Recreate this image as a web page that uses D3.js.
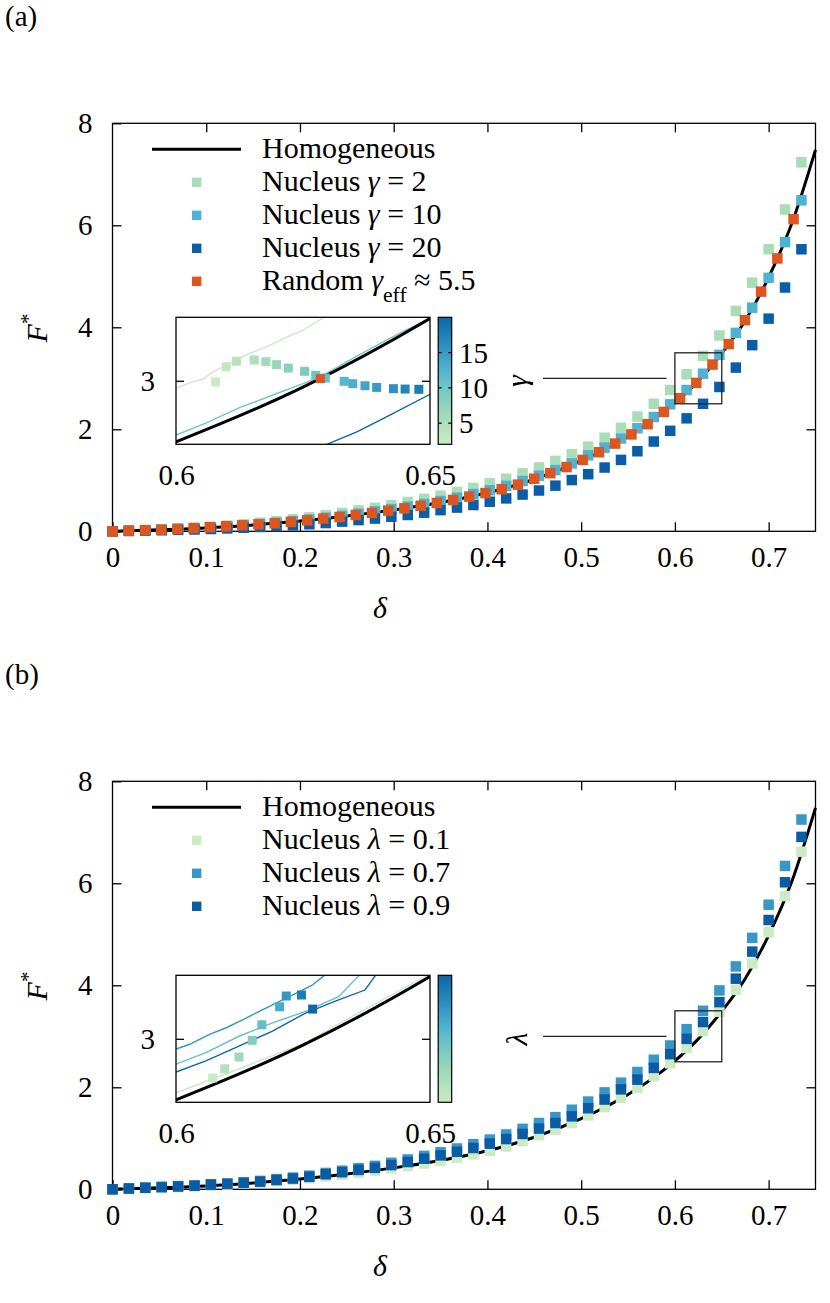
<!DOCTYPE html>
<html>
<head>
<meta charset="utf-8">
<script src="https://cdn.jsdelivr.net/npm/d3@7"></script>
<style>
  body { margin: 0; background: #fff; }
  svg text { font-family: "Liberation Serif", "DejaVu Serif", serif; fill: #000; }
</style>
</head>
<body>
<div class="chart"></div>
<script>
// ---- values ----
var deltaNucleus = [0, 0.0175, 0.035, 0.0525, 0.07, 0.0875, 0.105, 0.1225, 0.14, 0.1575, 0.175, 0.1925, 0.21, 0.2275, 0.245,
  0.2625, 0.28, 0.2975, 0.315, 0.3325, 0.35, 0.3675, 0.385, 0.4025, 0.42, 0.4375, 0.455, 0.4725, 0.49, 0.5075, 0.525,
  0.5425, 0.56, 0.5775, 0.595, 0.6125, 0.63, 0.6475, 0.665, 0.6825, 0.7, 0.7175, 0.735];
var deltaRandom = [0, 0.0173, 0.0346, 0.0519, 0.0692, 0.0865, 0.1038, 0.1211, 0.1384, 0.1557, 0.173, 0.1903, 0.2076, 0.2249,
  0.2422, 0.2595, 0.2768, 0.2941, 0.3114, 0.3287, 0.346, 0.3633, 0.3806, 0.3979, 0.4152, 0.4325, 0.4498, 0.4671, 0.4844,
  0.5017, 0.519, 0.5363, 0.5536, 0.5709, 0.5882, 0.6055, 0.6228, 0.6401, 0.6574, 0.6747, 0.692, 0.7093, 0.7266];

var homDelta = [0, 0.05, 0.1, 0.15, 0.2, 0.25, 0.3, 0.35, 0.4, 0.45, 0.5, 0.55, 0.575, 0.6, 0.625, 0.65, 0.675, 0.7, 0.725, 0.75];
var homF = [0, 0.03, 0.067, 0.125, 0.2, 0.3, 0.42, 0.565, 0.755, 1.02, 1.385, 1.86, 2.16, 2.52, 2.95, 3.49, 4.13, 4.98, 6.05, 7.48];

// panel (a)
var fGamma2 = [0, 0.013, 0.025, 0.04, 0.055, 0.072, 0.09, 0.113, 0.14, 0.167, 0.197, 0.235, 0.272, 0.315, 0.36,
  0.41, 0.46, 0.515, 0.575, 0.635, 0.7, 0.77, 0.85, 0.94, 1.03, 1.135, 1.25, 1.38,
  1.51, 1.66, 1.835, 2.03, 2.25, 2.5, 2.77, 3.08, 3.44, 3.84, 4.32, 4.875, 5.53, 6.31, 7.235];
var fGamma10 = [0, 0.01, 0.022, 0.034, 0.047, 0.06, 0.076, 0.096, 0.118, 0.142, 0.168, 0.198, 0.23, 0.266, 0.303,
  0.345, 0.39, 0.435, 0.485, 0.535, 0.595, 0.66, 0.73, 0.805, 0.89, 0.985,
  1.09, 1.2, 1.33, 1.49, 1.64, 1.82, 2.02, 2.24, 2.49, 2.77, 3.09, 3.46, 3.89, 4.385, 4.97, 5.67, 6.49];
var fGamma20 = [0, 0.006, 0.012, 0.02, 0.028, 0.036, 0.045, 0.056, 0.07, 0.085, 0.1, 0.118, 0.138, 0.162, 0.19,
  0.22, 0.25, 0.285, 0.32, 0.365, 0.415, 0.465, 0.515, 0.58, 0.645, 0.72, 0.8, 0.895, 1.005, 1.12,
  1.25, 1.4, 1.57, 1.76, 1.97, 2.215, 2.5, 2.83, 3.21, 3.65, 4.17, 4.78, 5.53];
var fRandom = [0, 0.012, 0.02, 0.03, 0.045, 0.062, 0.08, 0.098, 0.118, 0.137, 0.157, 0.185, 0.215, 0.25, 0.28,
  0.32, 0.36, 0.405, 0.45, 0.5, 0.555, 0.615, 0.68, 0.75, 0.825, 0.915, 1.03, 1.14,
  1.26, 1.4, 1.55, 1.72, 1.9, 2.1, 2.34, 2.61, 2.91, 3.27, 3.67, 4.14, 4.7, 5.35, 6.12];

// panel (b)
var fLambda01 = [0, 0.01, 0.02, 0.031, 0.044, 0.057, 0.071, 0.09, 0.11, 0.132, 0.157, 0.186, 0.215, 0.25, 0.285,
  0.325, 0.365, 0.41, 0.455, 0.505, 0.56, 0.62, 0.685, 0.755, 0.84, 0.945,
  1.06, 1.17, 1.3, 1.45, 1.61, 1.79, 1.99, 2.22, 2.47, 2.77, 3.1, 3.48, 3.91, 4.43, 5.04, 5.75, 6.62];
var fLambda07 = [0, 0.017, 0.033, 0.047, 0.062, 0.077, 0.098, 0.115, 0.137, 0.165, 0.2, 0.23, 0.268, 0.32, 0.365,
  0.415, 0.46, 0.52, 0.585, 0.655, 0.725, 0.8, 0.885, 0.975, 1.075, 1.185, 1.3,
  1.415, 1.56, 1.72, 1.9, 2.09, 2.3, 2.54, 2.82, 3.14, 3.5, 3.9, 4.37, 4.93, 5.58, 6.34, 7.25];
var fLambda09 = [0, 0.015, 0.03, 0.043, 0.056, 0.07, 0.09, 0.105, 0.125, 0.15, 0.182, 0.21, 0.245, 0.295, 0.335,
  0.38, 0.42, 0.475, 0.535, 0.6, 0.665, 0.735, 0.81, 0.895, 0.985, 1.085, 1.19, 1.3,
  1.43, 1.59, 1.76, 1.96, 2.15, 2.38, 2.65, 2.95, 3.28, 3.67, 4.13, 4.66, 5.28, 6.02, 6.91];

// inset (a): squares coloured by gamma, lines for gamma = 2, 10, 20
var insetADelta = [0.6078, 0.6099, 0.6119, 0.6154, 0.6177, 0.6198, 0.6221, 0.6253, 0.6275, 0.6294, 0.6331, 0.6348,
  0.6372, 0.6395, 0.6428, 0.6451, 0.6478];
var insetAF = [2.991, 3.11, 3.154, 3.164, 3.15, 3.127, 3.1, 3.075, 3.043, 3.022, 2.996, 2.977, 2.961, 2.948, 2.938, 2.935, 2.933];
var insetAGamma = [2, 3, 4, 5, 6, 7, 8, 9, 10, 11, 12, 13, 14, 15, 16, 17, 18];
var insetARandomDelta = [0.6284];
var insetARandomF = [3.017];
var lineG2Delta = [0.6, 0.6028, 0.6054, 0.607, 0.6093, 0.612, 0.6146, 0.6179, 0.6218, 0.6251, 0.6288, 0.6298];
var lineG2F = [2.941, 2.986, 3.014, 3.064, 3.112, 3.169, 3.217, 3.269, 3.343, 3.4, 3.492, 3.52];
var lineG10Delta = [0.6, 0.6061, 0.6126, 0.6192, 0.6258, 0.6297, 0.635, 0.6416, 0.65];
var lineG10F = [2.573, 2.67, 2.79, 2.89, 2.99, 3.06, 3.18, 3.325, 3.495];
var lineG20Delta = [0.6285, 0.6297, 0.6357, 0.6422, 0.65];
var lineG20F = [2.475, 2.5, 2.6, 2.731, 2.894];

// inset (b): squares coloured by lambda, lines for lambda = 0.1, 0.5, 0.7, 0.9
var insetBDelta = [0.6072, 0.6096, 0.6124, 0.615, 0.6169, 0.6204, 0.6217, 0.6247, 0.6269];
var insetBF = [2.691, 2.764, 2.857, 2.988, 3.11, 3.252, 3.337, 3.345, 3.234];
var insetBLambda = [0.1, 0.2, 0.3, 0.4, 0.5, 0.6, 0.7, 0.8, 0.9];
var lineL01Delta = [0.6, 0.6125, 0.6255, 0.6353, 0.649, 0.6505];
var lineL01F = [2.575, 2.764, 2.97, 3.19, 3.487, 3.51];
var lineL05Delta = [0.6, 0.606, 0.6125, 0.619, 0.6255, 0.632, 0.6359, 0.6368];
var lineL05F = [2.8, 2.893, 3.022, 3.125, 3.216, 3.332, 3.492, 3.52];
var lineL07Delta = [0.6, 0.6027, 0.6066, 0.6099, 0.6132, 0.6164, 0.6203, 0.6236, 0.6268, 0.6291, 0.6305];
var lineL07F = [2.919, 2.957, 3.035, 3.087, 3.151, 3.216, 3.293, 3.358, 3.422, 3.495, 3.53];
var lineL09Delta = [0.6, 0.606, 0.6125, 0.619, 0.6255, 0.632, 0.6372, 0.6392, 0.64];
var lineL09F = [2.738, 2.828, 2.944, 3.061, 3.203, 3.306, 3.384, 3.495, 3.52];

// ticks and labels
var xTicks = [0, 0.1, 0.2, 0.3, 0.4, 0.5, 0.6, 0.7];
var yTicks = [0, 2, 4, 6, 8];
var insetXTicks = [0.6, 0.65];
var insetYTicks = [3];
var gammaTicks = [5, 10, 15];
var legendA = ["Homogeneous", "Nucleus γ = 2", "Nucleus γ = 10", "Nucleus γ = 20", "Random γ_{eff} ≈ 5.5"];
var legendB = ["Homogeneous", "Nucleus λ = 0.1", "Nucleus λ = 0.7", "Nucleus λ = 0.9"];

// ---- set up ----
var svgWidth = 830, svgHeight = 1303;
var svg = d3.select(".chart").append("svg")
  .attr("width", svgWidth).attr("height", svgHeight);
var defs = svg.append("defs");

var frame = {left: 112.5, right: 815.5, top: 123.3, bottom: 531.3};
var inset = {left: 176, right: 430, top: 317.3, bottom: 444.3};
var cbar = {left: 438.2, right: 451.7};
var tickFont = 29;

// gnuplot-like GnBu colorbar
var cmap = t => d3.interpolateGnBu(0.25 + 0.63 * t);
var fmt = d => String(+d.toFixed(2));

// text with italic greek letters and _{sub}
function mathText(sel, str) {
  str.split(/(_\{[^}]*\}|[γλδ])/).filter(s => s.length).forEach(function(s) {
    if (s.startsWith("_{")) {
      sel.append("tspan").attr("baseline-shift", "sub").attr("font-size", "0.72em").text(s.slice(2, -1));
    } else if (/[γλδ]/.test(s)) {
      sel.append("tspan").attr("font-style", "italic").text(s);
    } else {
      sel.append("tspan").text(s);
    }
  });
}

function styleAxis(g) {
  g.attr("font-size", tickFont).attr("font-family", "Liberation Serif, serif");
  g.select(".domain").remove();
  g.selectAll("line").attr("stroke-width", 1.3);
}

function drawPanel(p) {
  var oy = p.offset;
  var g = svg.append("g");

  var x = d3.scaleLinear().domain([0, 0.75]).range([frame.left, frame.right]);
  var y = d3.scaleLinear().domain([0, 8]).range([frame.bottom + oy, frame.top + oy]);

  // axes, ticks mirrored and pointing inward
  g.append("g").attr("transform", `translate(0,${y(0)})`)
    .call(d3.axisBottom(x).tickValues(xTicks).tickSize(-9).tickSizeOuter(0).tickPadding(15).tickFormat(fmt))
    .call(styleAxis);
  g.append("g").attr("transform", `translate(0,${y(8)})`)
    .call(d3.axisTop(x).tickValues(xTicks.slice(1)).tickSize(-9).tickSizeOuter(0).tickFormat(""))
    .call(styleAxis);
  g.append("g").attr("transform", `translate(${x(0)},0)`)
    .call(d3.axisLeft(y).tickValues(yTicks).tickSize(-9).tickSizeOuter(0).tickPadding(20).tickFormat(fmt))
    .call(styleAxis);
  g.append("g").attr("transform", `translate(${x(0.75)},0)`)
    .call(d3.axisRight(y).tickValues(yTicks.slice(1, -1)).tickSize(-9).tickSizeOuter(0).tickFormat(""))
    .call(styleAxis);

  g.append("rect")
    .attr("x", x(0)).attr("y", y(8))
    .attr("width", x(0.75) - x(0)).attr("height", y(0) - y(8))
    .attr("fill", "none").attr("stroke", "#000").attr("stroke-width", 1.3);

  // homogeneous curve
  var line = d3.line().x(d => x(d[0])).y(d => y(d[1])).curve(d3.curveMonotoneX);
  g.append("path").datum(d3.zip(homDelta, homF))
    .attr("d", line).attr("fill", "none").attr("stroke", "#000").attr("stroke-width", 3);

  // square markers
  var size = 10.5;
  p.series.forEach(function(s) {
    g.append("g").selectAll("rect").data(d3.zip(s.delta, s.f)).join("rect")
      .attr("x", d => x(d[0]) - size / 2)
      .attr("y", d => y(d[1]) - size / 2)
      .attr("width", size).attr("height", size)
      .attr("fill", s.color);
  });

  // zoom box and connector
  g.append("rect")
    .attr("x", x(0.6)).attr("y", y(3.5))
    .attr("width", x(0.65) - x(0.6)).attr("height", y(2.5) - y(3.5))
    .attr("fill", "none").attr("stroke", "#222").attr("stroke-width", 1.3);
  g.append("line")
    .attr("x1", 543).attr("x2", x(0.591))
    .attr("y1", y(3)).attr("y2", y(3))
    .attr("stroke", "#222").attr("stroke-width", 1.3);

  // legend
  var lg = g.append("g");
  p.legend.forEach(function(txt, i) {
    var ry = 149.3 + oy + i * 33;
    if (i === 0) {
      lg.append("line").attr("x1", 152).attr("x2", 241).attr("y1", ry).attr("y2", ry)
        .attr("stroke", "#000").attr("stroke-width", 3);
    } else {
      lg.append("rect").attr("x", 196.7 - 4.7).attr("y", ry - 4.7)
        .attr("width", 9.4).attr("height", 9.4).attr("fill", p.series[i - 1].color);
    }
    lg.append("text").attr("x", 262).attr("y", ry + 8.5).attr("font-size", 30).call(mathText, txt);
  });

  // axis titles
  g.append("text").attr("x", 380).attr("y", 618 + oy).attr("text-anchor", "middle")
    .attr("font-size", 30).attr("font-style", "italic").text("δ");
  var fl = g.append("text").attr("transform", `translate(47,${328 + oy}) rotate(-90)`)
    .attr("text-anchor", "middle").attr("font-size", 30);
  fl.append("tspan").attr("font-style", "italic").text("F");
  fl.append("tspan").attr("baseline-shift", "super").attr("font-size", "0.7em").text("*");

  g.append("text").attr("x", 5).attr("y", 26 + oy).attr("font-size", tickFont).text(p.tag);

  // ---- inset ----
  var ix = d3.scaleLinear().domain([0.6, 0.65]).range([inset.left, inset.right]);
  var iy = d3.scaleLinear().domain([2.5, 3.5]).range([inset.bottom + oy, inset.top + oy]);
  var cscale = d3.scaleLinear().domain(p.cDomain).range([0, 1]);
  var ig = g.append("g");
  ig.append("rect").attr("x", inset.left).attr("y", inset.top + oy)
    .attr("width", inset.right - inset.left).attr("height", inset.bottom - inset.top).attr("fill", "#fff");

  defs.append("clipPath").attr("id", "clip" + p.id).append("rect")
    .attr("x", inset.left).attr("y", inset.top + oy)
    .attr("width", inset.right - inset.left).attr("height", inset.bottom - inset.top);
  var clipped = ig.append("g").attr("clip-path", `url(#clip${p.id})`);

  var iline = d3.line().x(d => ix(d[0])).y(d => iy(d[1]));
  var ilineSmooth = d3.line().x(d => ix(d[0])).y(d => iy(d[1])).curve(d3.curveMonotoneX);
  p.insetLines.forEach(function(l) {
    clipped.append("path").datum(d3.zip(l.delta, l.f)).attr("d", iline)
      .attr("fill", "none").attr("stroke", cmap(cscale(l.c))).attr("stroke-width", 1.4);
  });
  clipped.append("path").datum(d3.zip(homDelta, homF)).attr("d", ilineSmooth)
    .attr("fill", "none").attr("stroke", "#000").attr("stroke-width", 3);

  var isz = 9;
  clipped.append("g").selectAll("rect").data(d3.zip(p.insetDelta, p.insetF, p.insetC)).join("rect")
    .attr("x", d => ix(d[0]) - isz / 2).attr("y", d => iy(d[1]) - isz / 2)
    .attr("width", isz).attr("height", isz)
    .attr("fill", d => cmap(cscale(d[2])));
  if (p.insetExtra) {
    clipped.append("g").selectAll("rect").data(d3.zip(p.insetExtra.delta, p.insetExtra.f)).join("rect")
      .attr("x", d => ix(d[0]) - isz / 2).attr("y", d => iy(d[1]) - isz / 2)
      .attr("width", isz).attr("height", isz).attr("fill", p.insetExtra.color);
  }

  ig.append("g").attr("transform", `translate(${inset.left},0)`)
    .call(d3.axisLeft(iy).tickValues(insetYTicks).tickSize(-8).tickSizeOuter(0).tickPadding(21).tickFormat(fmt))
    .call(styleAxis);
  ig.append("g").attr("transform", `translate(${inset.right},0)`)
    .call(d3.axisRight(iy).tickValues(insetYTicks).tickSize(-8).tickSizeOuter(0).tickFormat(""))
    .call(styleAxis);
  ig.append("g").attr("transform", `translate(0,${inset.bottom + oy})`)
    .call(d3.axisBottom(ix).tickValues(insetXTicks).tickSize(0).tickSizeOuter(0).tickPadding(20).tickFormat(fmt))
    .call(styleAxis);
  ig.append("rect").attr("x", inset.left).attr("y", inset.top + oy)
    .attr("width", inset.right - inset.left).attr("height", inset.bottom - inset.top)
    .attr("fill", "none").attr("stroke", "#000").attr("stroke-width", 1.3);

  // colorbar
  var grad = defs.append("linearGradient").attr("id", "grad" + p.id)
    .attr("x1", 0).attr("y1", 1).attr("x2", 0).attr("y2", 0);
  d3.range(0, 1.0001, 0.1).forEach(function(t) {
    grad.append("stop").attr("offset", t).attr("stop-color", cmap(t));
  });
  var cy = d3.scaleLinear().domain(p.cDomain).range([inset.bottom + oy, inset.top + oy]);
  ig.append("rect").attr("x", cbar.left).attr("y", inset.top + oy)
    .attr("width", cbar.right - cbar.left).attr("height", inset.bottom - inset.top)
    .attr("fill", `url(#grad${p.id})`).attr("stroke", "#000").attr("stroke-width", 1.2);
  p.cTicks.forEach(function(v) {
    ig.append("line").attr("x1", cbar.left).attr("x2", cbar.left + 3.5).attr("y1", cy(v)).attr("y2", cy(v))
      .attr("stroke", "#000").attr("stroke-width", 1.2);
    ig.append("line").attr("x1", cbar.right - 3.5).attr("x2", cbar.right).attr("y1", cy(v)).attr("y2", cy(v))
      .attr("stroke", "#000").attr("stroke-width", 1.2);
    ig.append("text").attr("x", 459).attr("y", cy(v)).attr("dy", "0.35em")
      .attr("font-size", tickFont).text(v);
  });
  ig.append("text").attr("transform", `translate(${p.cLabelX},${381 + oy}) rotate(-90)`)
    .attr("text-anchor", "middle").attr("font-size", 30).attr("font-style", "italic").text(p.cLabel);
}

drawPanel({
  id: "A", offset: 0, tag: "(a)", legend: legendA,
  series: [
    {delta: deltaNucleus, f: fGamma2, color: "#a8ddb5"},
    {delta: deltaNucleus, f: fGamma10, color: "#4eb3d3"},
    {delta: deltaNucleus, f: fGamma20, color: "#0a5ea8"},
    {delta: deltaRandom, f: fRandom, color: "#dd5620"}
  ],
  cDomain: [2, 20], cTicks: gammaTicks, cLabel: "γ", cLabelX: 527,
  insetDelta: insetADelta, insetF: insetAF, insetC: insetAGamma,
  insetExtra: {delta: insetARandomDelta, f: insetARandomF, color: "#dd5620"},
  insetLines: [
    {delta: lineG2Delta, f: lineG2F, c: 2},
    {delta: lineG10Delta, f: lineG10F, c: 10},
    {delta: lineG20Delta, f: lineG20F, c: 20}
  ]
});

drawPanel({
  id: "B", offset: 658, tag: "(b)", legend: legendB,
  series: [
    {delta: deltaNucleus, f: fLambda01, color: "#ccebc5"},
    {delta: deltaNucleus, f: fLambda07, color: "#3896c8"},
    {delta: deltaNucleus, f: fLambda09, color: "#0a5ca5"}
  ],
  cDomain: [0.1, 0.9], cTicks: [], cLabel: "λ", cLabelX: 527,
  insetDelta: insetBDelta, insetF: insetBF, insetC: insetBLambda,
  insetLines: [
    {delta: lineL01Delta, f: lineL01F, c: 0.1},
    {delta: lineL05Delta, f: lineL05F, c: 0.5},
    {delta: lineL07Delta, f: lineL07F, c: 0.7},
    {delta: lineL09Delta, f: lineL09F, c: 0.9}
  ]
});
</script>
</body>
</html>
